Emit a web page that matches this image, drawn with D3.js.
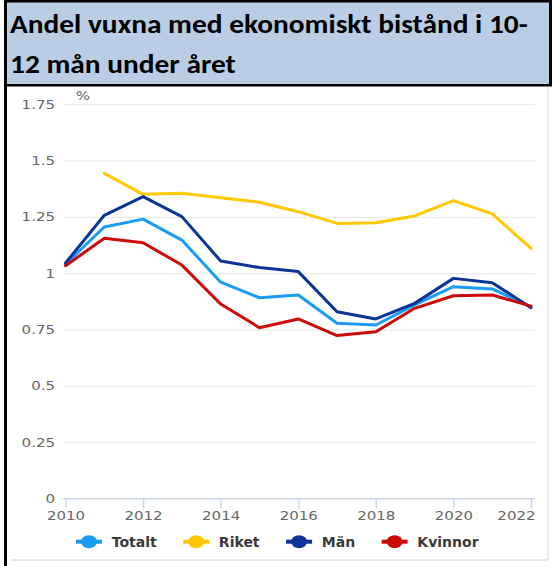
<!DOCTYPE html>
<html>
<head>
<meta charset="utf-8">
<script src="https://cdn.jsdelivr.net/npm/d3@7"></script>
<style>
  html, body { margin: 0; padding: 0; background: #fff; }
  svg { display: block; }
</style>
</head>
<body>
<div id="chart"></div>
<script>
// data
const years = [2010, 2011, 2012, 2013, 2014, 2015, 2016, 2017, 2018, 2019, 2020, 2021, 2022];
const totalt = [1.04, 1.205, 1.24, 1.147, 0.96, 0.891, 0.903, 0.778, 0.77, 0.859, 0.94, 0.93, 0.851];
const riket = [null, 1.443, 1.35, 1.355, 1.335, 1.315, 1.273, 1.221, 1.224, 1.254, 1.322, 1.263, 1.11];
const man = [1.045, 1.257, 1.34, 1.251, 1.054, 1.025, 1.007, 0.829, 0.797, 0.866, 0.977, 0.958, 0.847];
const kvinnor = [1.033, 1.155, 1.135, 1.036, 0.863, 0.758, 0.797, 0.723, 0.74, 0.844, 0.9, 0.903, 0.854];

const seriesNames = ["Totalt", "Riket", "Män", "Kvinnor"];
const seriesColors = ["#1a9cf5", "#ffc800", "#0a3596", "#cc0a0a"];
const yTicks = [0, 0.25, 0.5, 0.75, 1, 1.25, 1.5, 1.75];
const xTicks = [2010, 2012, 2014, 2016, 2018, 2020, 2022];
const titleLines = ["Andel vuxna med ekonomiskt bistånd i 10-", "12 mån under året"];
const unitLabel = "%";

const width = 552, height = 566;
const plot = { left: 63, right: 535, top: 104.2, bottom: 498.5 };
const stretch = 1.25; // the reference screenshot is stretched sideways
const axisFont = "'DejaVu Sans', Verdana, sans-serif";

const svg = d3.select("#chart").append("svg")
  .attr("width", width)
  .attr("height", height);

// title block with black frame
svg.append("rect").attr("x", 4).attr("y", 0).attr("width", 548).attr("height", 86.5).attr("fill", "#000");
svg.append("rect").attr("x", 7).attr("y", 2.5).attr("width", 542).attr("height", 81.5).attr("fill", "#b9cde5");
svg.append("rect").attr("x", 4).attr("y", 86).attr("width", 3).attr("height", height - 86).attr("fill", "#000");

const title = svg.append("g");
const titleText = title.selectAll("text")
  .data(titleLines)
  .enter()
  .append("text")
  .attr("y", (d, i) => 33 + i * 40)
  .style("font-family", "Calibri, Carlito, Lato, sans-serif")
  .style("font-weight", "bold")
  .style("font-size", "25.5px")
  .attr("fill", "#000")
  .text(d => d);
const firstWidth = titleText.node().getComputedTextLength();
titleText.attr("transform", `translate(10,0) scale(${518 / firstWidth},1)`);

// chart panel edges
svg.append("line").attr("x1", 548).attr("x2", 548).attr("y1", 87).attr("y2", 560)
  .attr("stroke", "#e2e2e2").attr("stroke-width", 1.5);
svg.append("line").attr("x1", 11).attr("x2", 548).attr("y1", 560).attr("y2", 560)
  .attr("stroke", "#e2e2e2").attr("stroke-width", 1.5);

const xScale = d3.scaleLinear().domain([2010, 2022]).range([65.5, 531]);
const yScale = d3.scaleLinear().domain([0, 1.75]).range([plot.bottom, plot.top]);

// y axis with gridlines
const yAxis = svg.append("g")
  .attr("transform", `translate(${plot.left},0)`)
  .call(d3.axisLeft(yScale).tickValues(yTicks)
    .tickFormat(d => String(d))
    .tickSize(-(plot.right - plot.left))
    .tickPadding(8 / stretch));
yAxis.select(".domain").remove();
yAxis.selectAll(".tick line")
  .attr("stroke", d => d === 0 ? "#ccd6eb" : "#e6e6e6")
  .attr("stroke-width", 1);
yAxis.selectAll(".tick text")
  .attr("fill", "#666")
  .style("font-family", axisFont)
  .style("font-size", "12px")
  .attr("transform", `scale(${stretch},1)`);

svg.append("text")
  .attr("transform", `translate(83,100) scale(${stretch},1)`)
  .attr("text-anchor", "middle")
  .attr("fill", "#666")
  .style("font-family", axisFont)
  .style("font-size", "12px")
  .text(unitLabel);

// x axis
const xAxis = svg.append("g")
  .attr("transform", `translate(0,${plot.bottom})`)
  .call(d3.axisBottom(xScale).tickValues(xTicks)
    .tickFormat(d3.format("d"))
    .tickSize(10)
    .tickPadding(3));
xAxis.select(".domain").remove();
xAxis.append("line")
  .attr("x1", plot.left).attr("x2", plot.right)
  .attr("stroke", "#ccd6eb");
xAxis.selectAll(".tick line").attr("stroke", "#ccd6eb").attr("stroke-width", 1.5);
xAxis.selectAll(".tick text")
  .attr("fill", "#666")
  .style("font-family", axisFont)
  .style("font-size", "12px")
  .attr("transform", `scale(${stretch},1)`);
// last label is pushed inside the plot, right aligned
xAxis.selectAll(".tick text")
  .filter(d => d === 2022)
  .attr("text-anchor", "end")
  .attr("x", (plot.right - xScale(2022)) / stretch);

// series lines
const series = [totalt, riket, man, kvinnor].map((values, i) => ({
  name: seriesNames[i],
  color: seriesColors[i],
  values: years.map((y, j) => ({ year: y, value: values[j] }))
}));

const line = d3.line()
  .defined(d => d.value != null)
  .x(d => xScale(d.year))
  .y(d => yScale(d.value));

svg.append("g")
  .selectAll("path")
  .data(series)
  .enter()
  .append("path")
  .attr("d", d => line(d.values))
  .attr("fill", "none")
  .attr("stroke", d => d.color)
  .attr("stroke-width", 3)
  .attr("stroke-linejoin", "round")
  .attr("stroke-linecap", "round");

// legend
const legend = svg.append("g");
const legendItem = legend.selectAll(".legend-item")
  .data(series)
  .enter()
  .append("g")
  .attr("class", "legend-item");

legendItem.append("line")
  .attr("x1", -13).attr("x2", 13)
  .attr("stroke", d => d.color)
  .attr("stroke-width", 4);
legendItem.append("ellipse")
  .attr("rx", 8).attr("ry", 6.5)
  .attr("fill", d => d.color);
legendItem.append("text")
  .attr("x", 22.7)
  .attr("y", 5)
  .attr("fill", "#3a3a3a")
  .style("font-family", axisFont)
  .style("font-weight", "bold")
  .style("font-size", "14px")
  .text(d => d.name);

let cursor = 0;
const offsets = [];
legendItem.each(function () {
  offsets.push(cursor);
  const w = d3.select(this).select("text").node().getComputedTextLength();
  cursor += 22.7 + w + 39.5;
});
const legendSpan = cursor - 39.5 + 13;
const legendStart = 277.3 - legendSpan / 2 + 13;
legendItem.attr("transform", (d, i) => `translate(${legendStart + offsets[i]},541.7)`);
</script>
</body>
</html>
